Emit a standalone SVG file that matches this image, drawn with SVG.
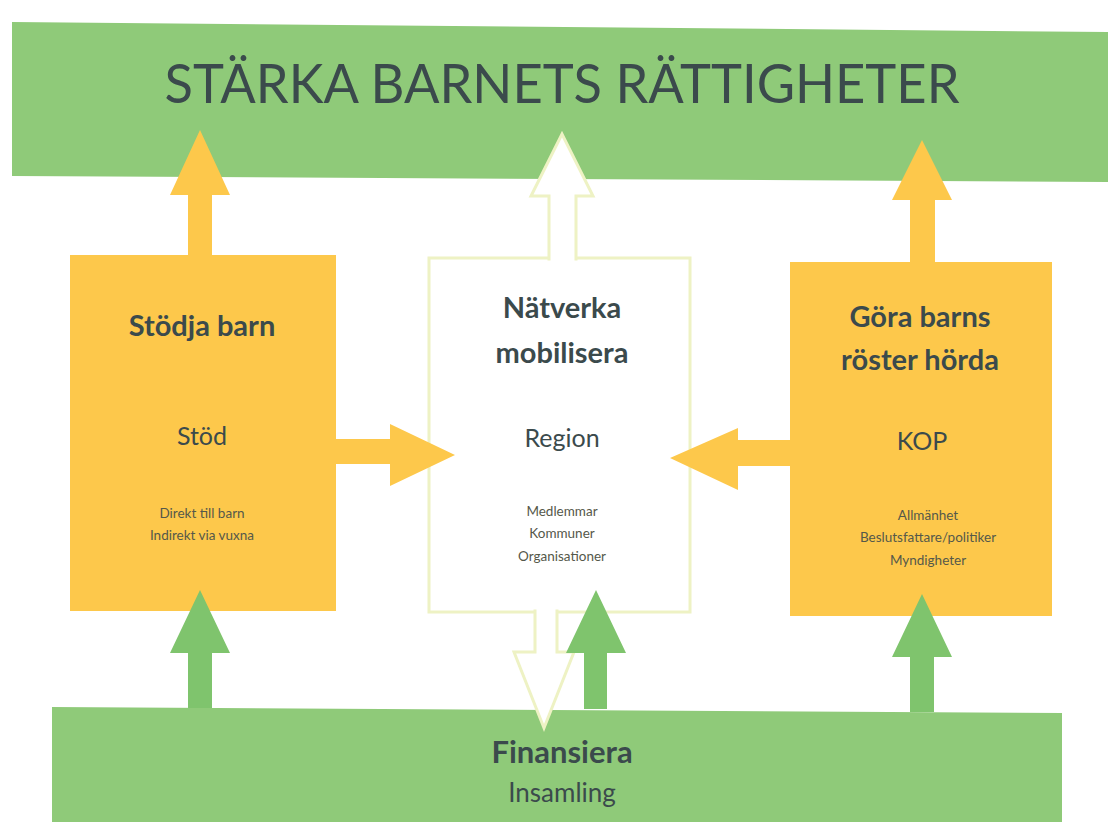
<svg xmlns="http://www.w3.org/2000/svg" width="1108" height="822" viewBox="0 0 1108 822">
<style>
.t{font-family:Lato,"Open Sans","Liberation Sans",sans-serif;fill:#3b4a4c;text-anchor:middle}
.b{font-weight:700}
.s{fill:#55584a}
.or{fill:#fdc84b}
.gr{fill:#8fca79}
.ga{fill:#7fc46d}
.wh{fill:#ffffff;stroke:#eef2c4;stroke-width:3}
</style>
<rect width="1108" height="822" fill="#ffffff"/>
<g id="top">
<polygon class="gr" points="12,22 1108,32 1108,182 12,176"/>
<text class="t" x="562" y="103" font-size="54" textLength="795" lengthAdjust="spacingAndGlyphs">STÄRKA BARNETS RÄTTIGHETER</text>
</g>
<g id="bottom">
<polygon class="gr" points="52,707 1062,713 1062,822 52,822"/>
<text class="t b" x="562" y="763" font-size="31">Finansiera</text>
<text class="t" x="562" y="802" font-size="26">Insamling</text>
</g>
<g id="stodja">
<rect class="or" x="70" y="255" width="266" height="356"/>
<text class="t b" x="202" y="336" font-size="29">Stödja barn</text>
<text class="t" x="202" y="445" font-size="25">Stöd</text>
<text class="t s" x="202" y="518" font-size="13.5">Direkt till barn</text>
<text class="t s" x="202" y="540" font-size="13.5">Indirekt via vuxna</text>
</g>
<g id="natverka">
<rect class="wh" x="429" y="258" width="261" height="354"/>
<text class="t b" x="562" y="318" font-size="29">Nätverka</text>
<text class="t b" x="562" y="363" font-size="29">mobilisera</text>
<text class="t" x="562" y="447" font-size="25">Region</text>
<text class="t s" x="562" y="516" font-size="13.5">Medlemmar</text>
<text class="t s" x="562" y="538" font-size="13.5">Kommuner</text>
<text class="t s" x="562" y="561" font-size="13.5">Organisationer</text>
</g>
<g id="gora">
<rect class="or" x="790" y="262" width="262" height="354"/>
<text class="t b" x="920" y="327" font-size="29">Göra barns</text>
<text class="t b" x="920" y="370" font-size="29">röster hörda</text>
<text class="t" x="922" y="450" font-size="25">KOP</text>
<text class="t s" x="928" y="520" font-size="13.5">Allmänhet</text>
<text class="t s" x="928" y="542" font-size="13.5">Beslutsfattare/politiker</text>
<text class="t s" x="928" y="565" font-size="13.5">Myndigheter</text>
</g>
<g id="connectors">
<polygon class="or" points="188,257 188,195 170,195 200,130 230,195 212,195 212,257"/>
<path class="wh" d="M549,260.5 L549,196 L531,196 L562,134 L593,196 L576,196 L576,260.5"/>
<polygon class="or" points="910,264 910,200 892,200 922,140 952,200 935,200 935,264"/>
<polygon class="or" points="334,439 390,439 390,424 455,455 390,486 390,464 334,464"/>
<polygon class="or" points="792,440 738,440 738,428 670,458 738,490 738,466 792,466"/>
<path class="wh" d="M535,609.5 L535,652 L514,652 L544,728 L574,652 L557,652 L557,609.5"/>
<polygon class="ga" points="188,708 188,653 170,653 200,590 230,653 212,653 212,708"/>
<polygon class="ga" points="584,709 584,653 566,653 596,590 626,653 607,653 607,709"/>
<polygon class="ga" points="910,712 910,657 892,657 922,594 952,657 934,657 934,712"/>
</g>
</svg>
